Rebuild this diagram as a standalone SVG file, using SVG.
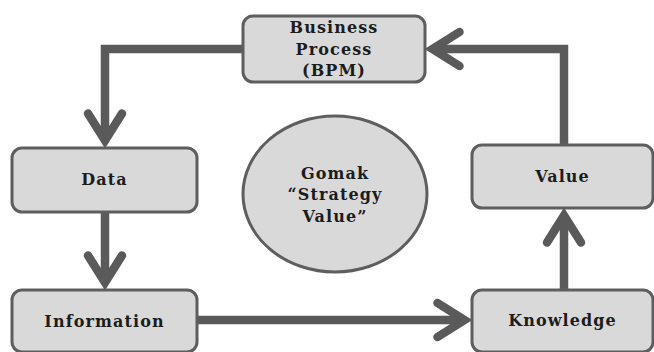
<svg xmlns="http://www.w3.org/2000/svg" width="654" height="352" viewBox="0 0 654 352">
<defs>
<style>
.box{fill:#d9d9d9;stroke:#5e5e5e;stroke-width:3}
.lbl{font-family:"DejaVu Serif","Liberation Serif",serif;font-weight:bold;font-size:16px;letter-spacing:1.1px;fill:#1c1c1c;text-anchor:middle}
.conn{fill:none;stroke:#5a5a5a;stroke-width:8.5;stroke-linejoin:miter;marker-end:url(#chev)}
</style>
<marker id="chev" markerUnits="userSpaceOnUse" markerWidth="50" markerHeight="50" viewBox="-35 -25 50 50" refX="-2.5" refY="0" orient="auto" overflow="visible">
<path d="M -27 -17 L 0 0 L -27 17" fill="none" stroke="#5a5a5a" stroke-width="8.5" stroke-linecap="round" stroke-linejoin="miter"/>
</marker>
</defs>
<rect width="654" height="352" fill="#ffffff"/>
<g id="connectors">
<path class="conn" d="M 243 49 H 105 V 138"/>
<path class="conn" d="M 105 212 V 280"/>
<path class="conn" d="M 197 320 H 462"/>
<path class="conn" d="M 564 290 V 218"/>
<path class="conn" d="M 564 145 V 49 H 435"/>
</g>
<g id="bpm">
<rect class="box" x="243" y="16" width="182" height="66" rx="10"/>
<text class="lbl" x="334" y="33">Business</text>
<text class="lbl" x="334" y="55">Process</text>
<text class="lbl" x="334" y="76">(BPM)</text>
</g>
<g id="data">
<rect class="box" x="12" y="148" width="185" height="64" rx="10"/>
<text class="lbl" x="104.5" y="185">Data</text>
</g>
<g id="information">
<rect class="box" x="12" y="290" width="185" height="62" rx="10"/>
<text class="lbl" x="104.5" y="327">Information</text>
</g>
<g id="value">
<rect class="box" x="472" y="145" width="181" height="63" rx="10"/>
<text class="lbl" x="562.5" y="182">Value</text>
</g>
<g id="knowledge">
<rect class="box" x="472" y="290" width="181" height="62" rx="10"/>
<text class="lbl" x="562.5" y="326">Knowledge</text>
</g>
<g id="gomak">
<ellipse class="box" cx="335" cy="194" rx="92" ry="78"/>
<text class="lbl" x="335" y="179">Gomak</text>
<text class="lbl" x="335" y="200">“Strategy</text>
<text class="lbl" x="335" y="222">Value”</text>
</g>
</svg>
